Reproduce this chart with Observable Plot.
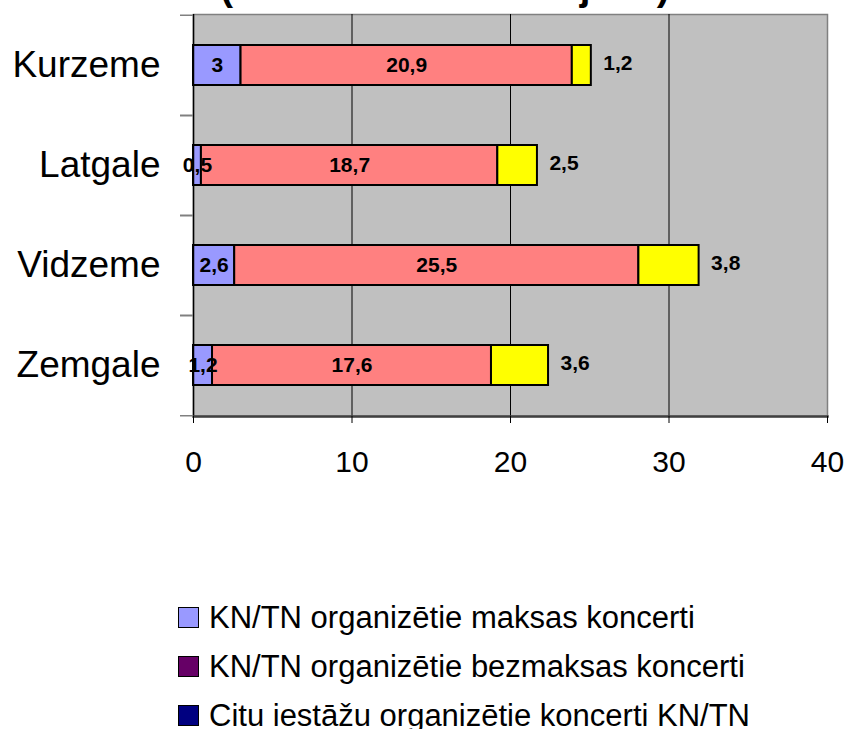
<!DOCTYPE html>
<html>
<head>
<meta charset="utf-8">
<script src="https://cdn.jsdelivr.net/npm/d3@7"></script>
<script src="https://cdn.jsdelivr.net/npm/@observablehq/plot@0.6"></script>
<style>
  html, body { margin: 0; padding: 0; background: #fff; color: #000; overflow: hidden; }
  body { width: 848px; height: 729px; position: relative; font-family: "Liberation Sans", Arial, sans-serif; }
  #title { position: absolute; left: 0; width: 890px; top: -32px; text-align: center; font-weight: bold; font-size: 38.5px; line-height: 1; white-space: nowrap; }
  #chart svg { display: block; }
  #legend { padding-left: 178px; margin-top: -2px; }
  .row { height: 49px; display: flex; align-items: center; font-size: 31px; }
  .sw { width: 21px; height: 21px; border: 1.5px solid #000; margin-right: 10px; flex: none; box-sizing: border-box; }
</style>
</head>
<body>
<div id="chart"></div>
<div id="title">(uz 10 000 iedzīvotājiem)</div>
<div id="legend"></div>
<script>
const regions = ["Kurzeme", "Latgale", "Vidzeme", "Zemgale"];
const seriesKeys = ["maksas", "sarkanā", "dzeltenā"];
const maksas = [3, 0.5, 2.6, 1.2];
const sarkana = [20.9, 18.7, 25.5, 17.6];
const dzeltena = [1.2, 2.5, 3.8, 3.6];
const barColors = ["#9999FF", "#FF8080", "#FFFF00"];
const xTicks = [0, 10, 20, 30, 40];
const gridValues = [10, 20, 30];
const legendLabels = [
  "KN/TN organizētie maksas koncerti",
  "KN/TN organizētie bezmaksas koncerti",
  "Citu iestāžu organizētie koncerti KN/TN"
];
const legendColors = ["#9999FF", "#660066", "#000080"];

const seriesValues = [maksas, sarkana, dzeltena];
const data = [];
regions.forEach((r, i) => {
  seriesKeys.forEach((s, j) => data.push({region: r, series: s, value: seriesValues[j][i]}));
});
const fmt = v => String(v).replace(".", ",");
const last = seriesKeys[seriesKeys.length - 1];

const H = 595, mTop = 14, mBottom = 179;
const step = (H - mTop - mBottom) / regions.length;

const chart = Plot.plot({
  width: 848,
  height: H,
  marginLeft: 193,
  marginRight: 21,
  marginTop: mTop,
  marginBottom: mBottom,
  style: {fontFamily: "'Liberation Sans', Arial, sans-serif", background: "transparent", color: "#000", overflow: "visible"},
  x: {domain: [0, 40], label: null},
  y: {domain: regions, paddingInner: 0.6, paddingOuter: 0.3, label: null},
  color: {domain: seriesKeys, range: barColors},
  marks: [
    Plot.frame({fill: "#c0c0c0", stroke: "#808080", strokeWidth: 1.5}),
    Plot.ruleX(gridValues, {stroke: "#000", strokeWidth: 1}),
    Plot.barX(data, Plot.stackX({x: "value", y: "region", fill: "series", stroke: "#000", strokeWidth: 2})),
    Plot.text(data, Plot.stackX({x: "value", y: "region", text: d => d.series !== last ? fmt(d.value) : null, fontWeight: "bold", fontSize: 21})),
    Plot.text(data, Plot.stackX2({x: "value", y: "region", text: d => d.series === last ? fmt(d.value) : null, fontWeight: "bold", fontSize: 21, textAnchor: "start", dx: 12, dy: -2})),
    Plot.ruleX([0], {stroke: "#000", strokeWidth: 1.5}),
    Plot.frame({anchor: "bottom", stroke: "#404040", strokeWidth: 2.5}),
    Plot.axisX({ticks: xTicks, tickSize: 7, tickPadding: 27, fontSize: 30, tickFormat: d => d, stroke: "#000"}),
    Plot.axisY({tickSize: 0, tickPadding: 33, fontSize: 37}),
    Plot.axisY({tickSize: 13, text: null, dy: step / 2, stroke: "#808080", strokeWidth: 1.5}),
    Plot.axisY({tickSize: 13, text: null, dy: -step / 2, stroke: "#808080", strokeWidth: 1.5})
  ]
});
document.getElementById("chart").appendChild(chart);

const legend = document.getElementById("legend");
legendLabels.forEach((label, i) => {
  const row = document.createElement("div");
  row.className = "row";
  const sw = document.createElement("span");
  sw.className = "sw";
  sw.style.background = legendColors[i];
  const t = document.createElement("span");
  t.textContent = label;
  row.appendChild(sw);
  row.appendChild(t);
  legend.appendChild(row);
});
</script>
</body>
</html>
